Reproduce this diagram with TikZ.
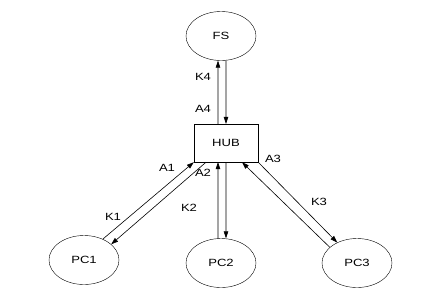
\documentclass[tikz,border=0pt]{standalone}
\usepackage{fontspec}
\setmainfont{Liberation Sans}[FakeStretch=1.25]
\usepackage{tikz}
\usetikzlibrary{arrows.meta,shapes.geometric}
\tikzset{
  node-station/.style={draw,thin,ellipse,minimum width=70bp,minimum height=49bp,
    inner sep=0pt,font=\fontsize{10.5}{12}\selectfont},
  node-hub/.style={draw,thin,rectangle,minimum width=64bp,minimum height=38bp,
    inner sep=0pt,font=\fontsize{10.5}{12}\selectfont},
  node-lbl/.style={inner sep=0pt,font=\fontsize{10.5}{12}\selectfont},
  arrow/.style={-{Triangle[length=7pt,width=4.6pt]},line width=0.6pt},
}

\begin{document}
\begin{tikzpicture}[x=1bp,y=-1bp]
  \useasboundingbox (0,0) rectangle (445,299);
  \node[node-station] (fs)  at (221,36)  {FS};
  \node[node-hub]     (hub) at (226,143) {HUB};
  \node[node-station] (pc1) at (84,260)  {PC1};
  \node[node-station] (pc2) at (221,263) {PC2};
  \node[node-station] (pc3) at (357,263) {PC3};
  % hub <-> fs
  \draw[arrow] ([xshift=-8bp]hub.north) -- ([xshift=-3bp]fs.south);
  \draw[arrow] ([xshift=5bp]fs.south)   -- (hub.north);
  % pcs <-> hub
  \draw[arrow] (pc1.48)                  -- (hub.south west);
  \draw[arrow] ([xshift=-20bp]hub.south) -- (pc1.30);
  \draw[arrow] ([xshift=-3bp]pc2.north)  -- ([xshift=-8bp]hub.south);
  \draw[arrow] (hub.south)               -- ([xshift=5bp]pc2.north);
  \draw[arrow] (pc3.150)                 -- ([xshift=16bp]hub.south);
  \draw[arrow] (hub.south east)          -- (pc3.134);
  % labels
  \node[node-lbl] (k4) at (203,77)  {K4};
  \node[node-lbl] (a4) at (203,109) {A4};
  \node[node-lbl] (a1) at (167,168) {A1};
  \node[node-lbl] (a2) at (203,173) {A2};
  \node[node-lbl] (a3) at (273,159) {A3};
  \node[node-lbl] (k1) at (113,217) {K1};
  \node[node-lbl] (k2) at (189,208) {K2};
  \node[node-lbl] (k3) at (319,202) {K3};
\end{tikzpicture}
\end{document}
